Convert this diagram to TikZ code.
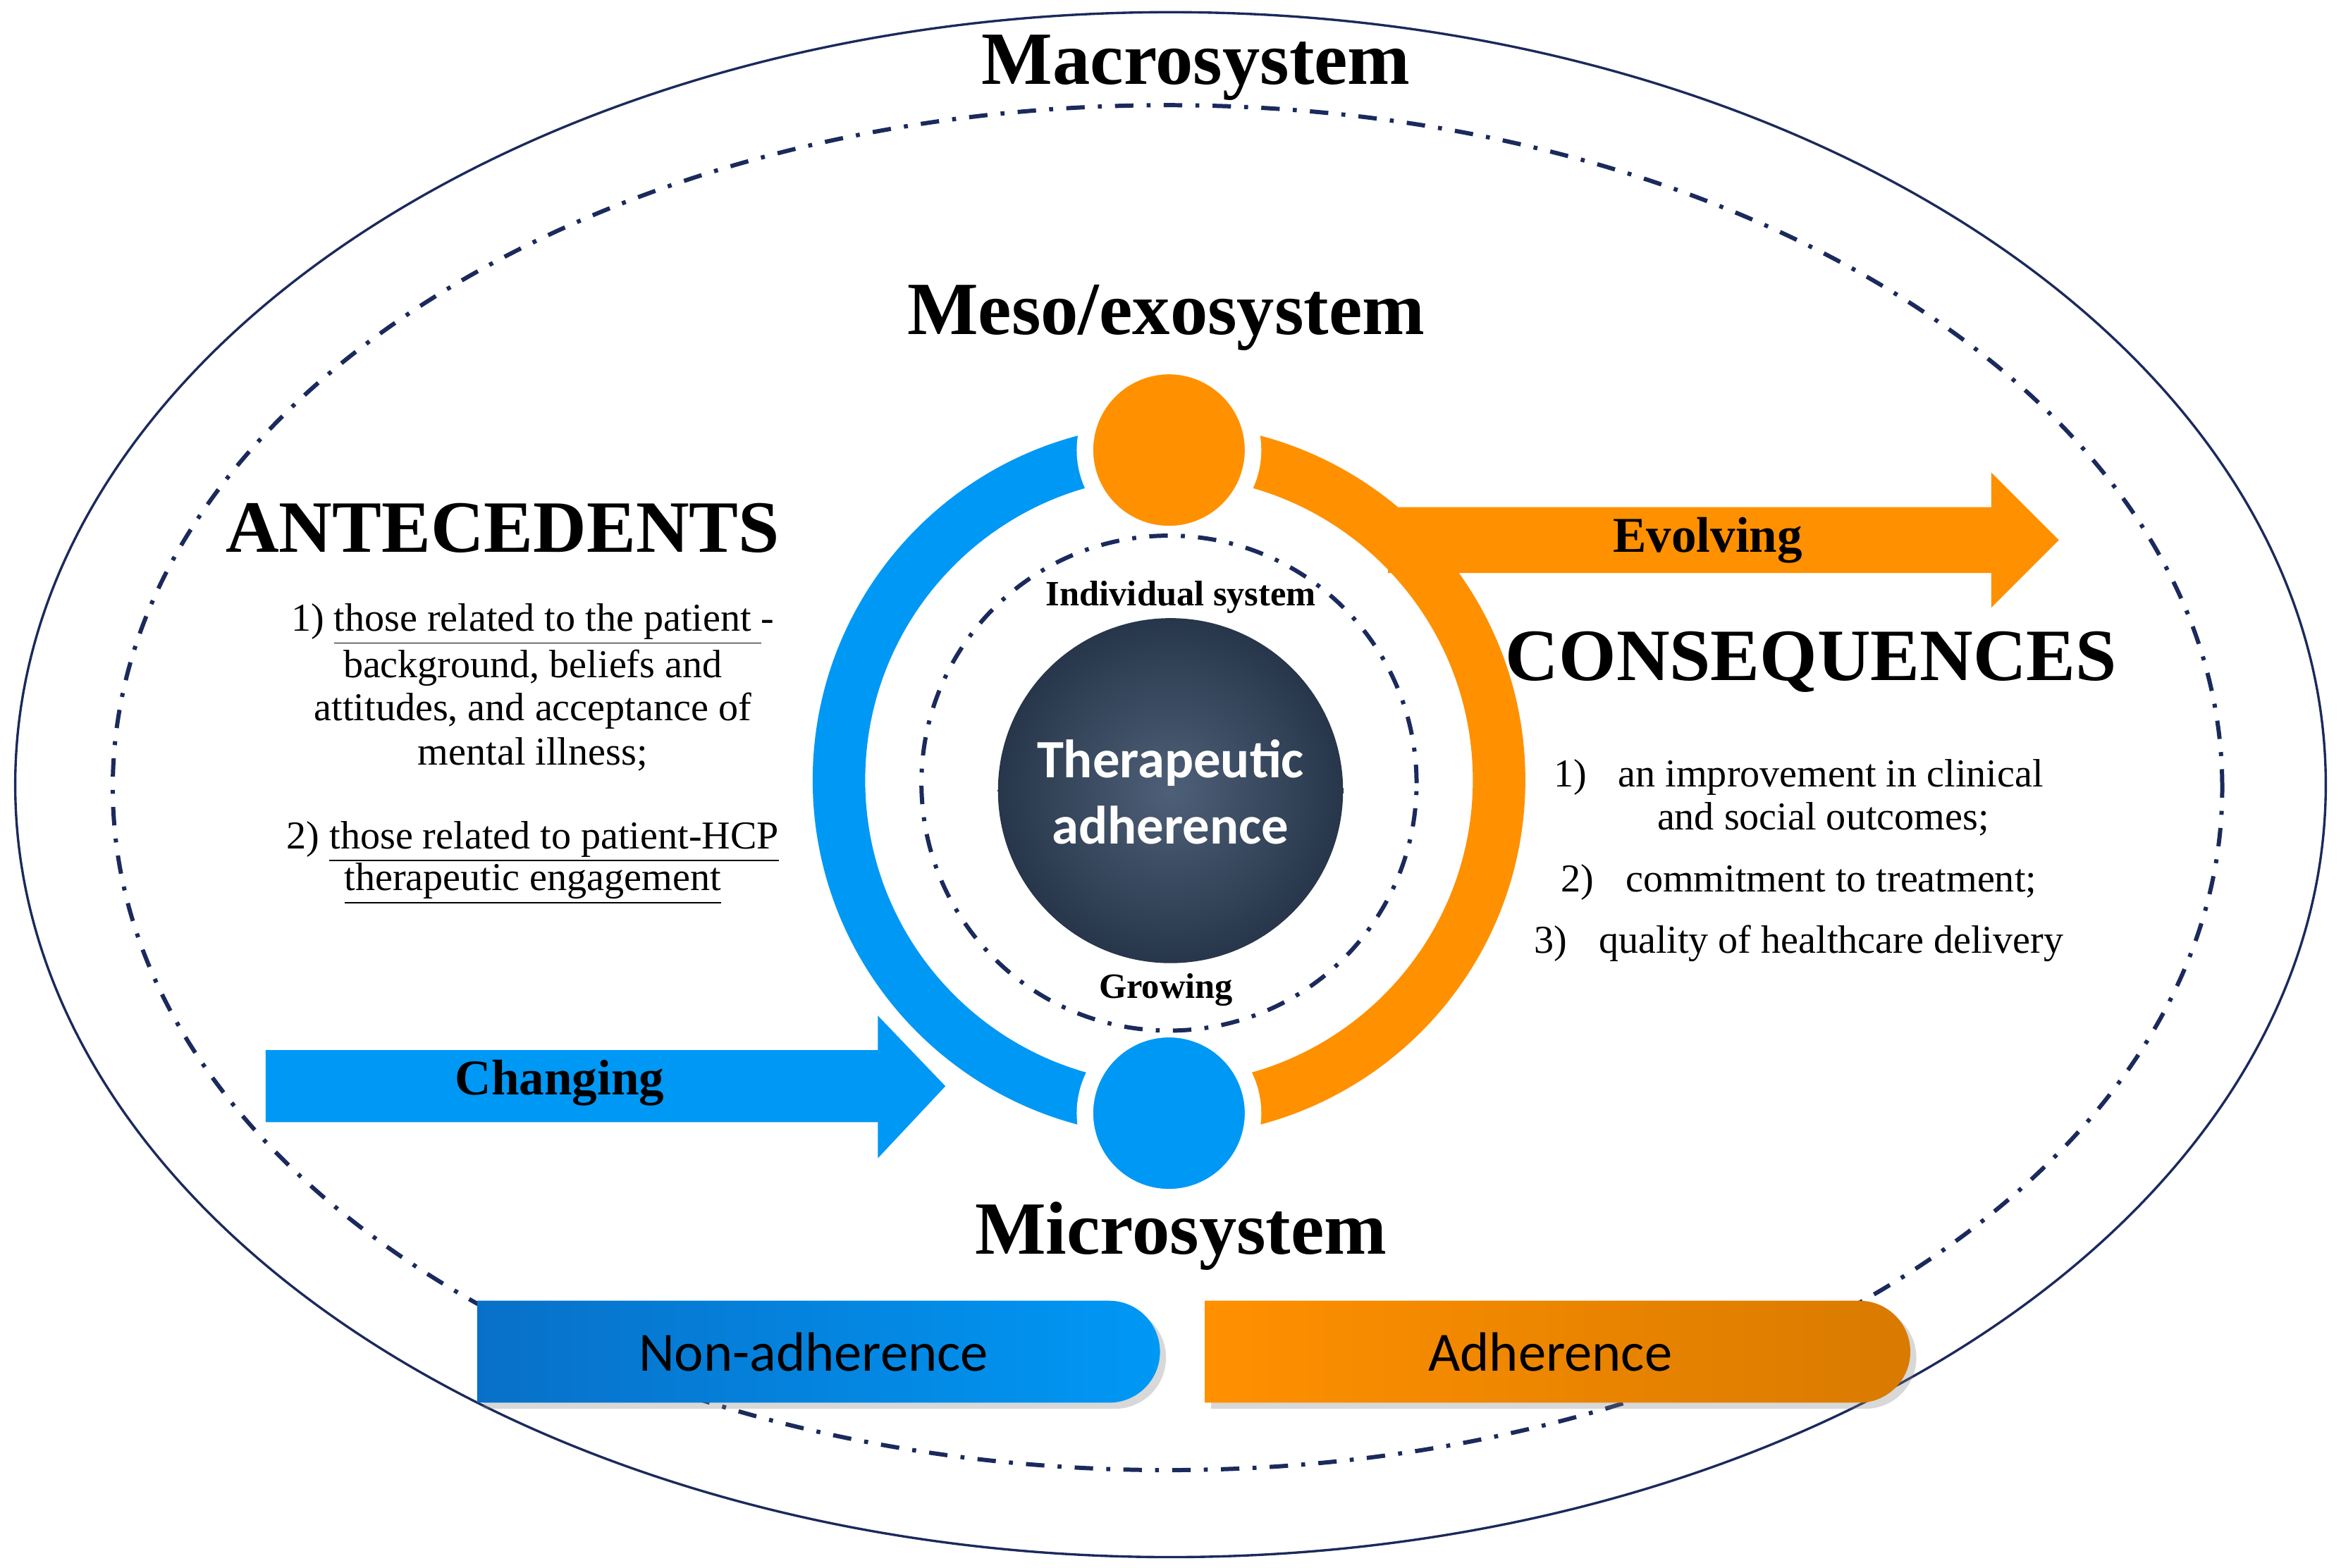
\documentclass[tikz,border=0pt]{standalone}
\usepackage{fontspec}
\setmainfont{Liberation Serif}
\newfontfamily\sansf{Carlito}
\usetikzlibrary{shadows}
\definecolor{navy}{HTML}{1B2A5C}
\definecolor{cblue}{HTML}{0098F5}
\definecolor{dblue}{HTML}{0870C8}
\definecolor{corange}{HTML}{FF9000}
\definecolor{ballin}{HTML}{4E6078}
\definecolor{ballout}{HTML}{27364A}
\begin{document}
\begin{tikzpicture}[x=0.02cm,y=-0.02cm,
  head/.style={font=\bfseries\fontsize{28.5}{32}\selectfont},
  lst/.style={font=\fontsize{15}{17}\selectfont, inner sep=0pt},
  arrlab/.style={font=\bfseries\fontsize{19}{22}\selectfont},
  dd/.style={navy, line width=1.6pt, dash pattern=on 7pt off 5pt on 1.5pt off 5pt}]
\useasboundingbox (0,0) rectangle (1560,1045);
\fill[white] (0,0) rectangle (1560,1045);
\coordinate (c) at (779,520);
\draw[navy, line width=0.9pt] (780,523) ellipse [x radius=15.4cm, y radius=10.3cm];
\draw[dd] (778,525) ellipse [x radius=14.06cm, y radius=9.1cm];
\node[head] (macro) at (797,45) {Macrosystem};
\node[head] (meso) at (777,212) {Meso/exosystem};
\node[head] (micro) at (787,824) {Microsystem};
\node[head, font=\bfseries\fontsize{28}{32}\selectfont] (ante) at (335,352) {ANTECEDENTS};
\node[head, font=\bfseries\fontsize{28}{32}\selectfont] (cons) at (1207,441) {CONSEQUENCES};
% arrows
\fill[corange] (925,338)--(1327,338)--(1327,315)--(1372,360)--(1327,405)--(1327,382)--(925,382)--cycle;
\node[arrlab] (evol) at (1138,360) {Evolving};
\fill[cblue] (177,700)--(585,700)--(585,677)--(630,724)--(585,772)--(585,748)--(177,748)--cycle;
\node[arrlab] (chg) at (373,722) {Changing};
% ring
\draw[cblue, line width=0.7cm] (c) ++(90:4.4cm) arc[start angle=90, end angle=270, radius=4.4cm];
\draw[corange, line width=0.7cm] (c) ++(-90:4.4cm) arc[start angle=-90, end angle=90, radius=4.4cm];
\fill[corange, draw=white, line width=0.22cm] (779,300) circle (1.12cm);
\fill[cblue, draw=white, line width=0.22cm] (779,742) circle (1.12cm);
\draw[dd] (779,522) circle (3.3cm);
\node[font=\bfseries\fontsize{13.5}{15}\selectfont] (ind) at (787,398) {Individual system};
\node[font=\bfseries\fontsize{13.5}{15}\selectfont] (grow) at (777,660) {Growing};
\shade[inner color=ballin, outer color=ballout] (780,527) circle (2.3cm);
\node[text=white, align=center, font=\sansf\bfseries\fontsize{20.5}{25}\selectfont] (ta) at (780,528) {Therapeutic\\adherence};
% antecedents list
\node[lst] at (355,416) {1) \underline{those related to the patient }-};
\node[lst] at (355,445) {background, beliefs and};
\node[lst] at (355,474) {attitudes, and acceptance of};
\node[lst] at (355,503) {mental illness;};
\node[lst] at (355,561) {2) \underline{those related to patient-HCP}};
\node[lst] at (355,589) {\underline{therapeutic engagement}};
% consequences list
\node[lst, anchor=west] at (1035,518) {1)\hspace{0.8em}an improvement in clinical};
\node[lst, anchor=west] at (1104,546) {and social outcomes;};
\node[lst, anchor=west] at (1040,588) {2)\hspace{0.8em}commitment to treatment;};
\node[lst, anchor=west] at (1022,629) {3)\hspace{0.8em}quality of healthcare delivery};
% bars
\shade[left color=dblue, right color=cblue, drop shadow={opacity=0.3}]
  (318,867) -- (739,867) arc[start angle=90, end angle=-90, radius=0.68cm] -- (318,935) -- cycle;
\node[font=\sansf\fontsize{21}{24}\selectfont] (non) at (542,901) {Non-adherence};
\shade[left color=corange, right color=corange!85!black, drop shadow={opacity=0.3}]
  (803,867) -- (1239,867) arc[start angle=90, end angle=-90, radius=0.68cm] -- (803,935) -- cycle;
\node[font=\sansf\fontsize{21}{24}\selectfont] (adh) at (1033,901) {Adherence};
\end{tikzpicture}
\end{document}
